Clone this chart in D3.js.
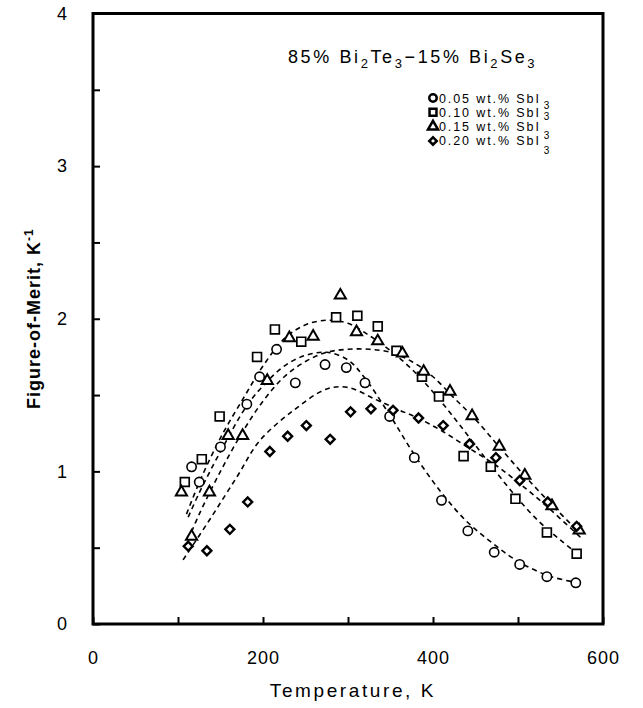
<!DOCTYPE html>
<html>
<head>
<meta charset="utf-8">
<script src="https://cdn.jsdelivr.net/npm/d3@7"></script>
<style>
  html, body { margin: 0; padding: 0; background: #fff; }
  svg { display: block; font-family: "Liberation Sans", Arial, Helvetica, sans-serif; }
</style>
</head>
<body>
<svg id="chart" width="643" height="708"></svg>
<script>
// ---- data ----
const seriesLabels = ["0.05 wt.% SbI", "0.10 wt.% SbI", "0.15 wt.% SbI", "0.20 wt.% SbI"];
const seriesSymbols = ["circle", "square", "triangle", "diamond"];

const temp05 = [116, 125, 150, 181, 196, 216, 238, 273, 298, 320, 349, 378, 410, 441, 472, 502, 534, 568];
const fom05  = [1.03, 0.93, 1.16, 1.44, 1.62, 1.80, 1.58, 1.70, 1.68, 1.58, 1.36, 1.09, 0.81, 0.61, 0.47, 0.39, 0.31, 0.27];

const temp10 = [108, 128, 149, 193, 214, 245, 286, 311, 335, 357, 387, 407, 436, 468, 497, 534, 569];
const fom10  = [0.93, 1.08, 1.36, 1.75, 1.93, 1.85, 2.01, 2.02, 1.95, 1.79, 1.62, 1.49, 1.10, 1.03, 0.82, 0.60, 0.46];

const temp15 = [104, 116, 137, 159, 176, 205, 231, 259, 291, 310, 335, 364, 389, 420, 446, 478, 508, 540, 572];
const fom15  = [0.87, 0.58, 0.87, 1.24, 1.24, 1.60, 1.88, 1.89, 2.16, 1.92, 1.86, 1.78, 1.66, 1.53, 1.37, 1.17, 0.98, 0.78, 0.62];

const temp20 = [112, 134, 161, 182, 208, 229, 251, 279, 303, 327, 353, 383, 412, 443, 474, 502, 535, 569];
const fom20  = [0.51, 0.48, 0.62, 0.80, 1.13, 1.23, 1.30, 1.21, 1.39, 1.41, 1.40, 1.35, 1.30, 1.18, 1.09, 0.94, 0.80, 0.64];

// dashed fit curves
const fitT05 = [112, 125, 150, 181, 200, 225, 250, 275, 300, 320, 349, 378, 410, 440, 470, 500, 539, 572];
const fitF05 = [0.70, 0.86, 1.13, 1.43, 1.56, 1.69, 1.76, 1.78, 1.73, 1.61, 1.37, 1.11, 0.86, 0.67, 0.53, 0.41, 0.31, 0.27];

const fitT10 = [110, 126, 150, 177, 200, 225, 250, 275, 300, 325, 350, 375, 400, 425, 450, 475, 500, 525, 550, 572];
const fitF10 = [0.72, 0.94, 1.22, 1.48, 1.69, 1.87, 1.96, 1.99, 1.97, 1.89, 1.79, 1.67, 1.52, 1.35, 1.17, 0.99, 0.82, 0.67, 0.55, 0.45];

const fitT15 = [112, 125, 150, 175, 200, 225, 250, 275, 300, 325, 350, 375, 400, 425, 450, 478, 508, 540, 572];
const fitF15 = [0.55, 0.72, 1.00, 1.25, 1.46, 1.62, 1.72, 1.78, 1.80, 1.80, 1.78, 1.72, 1.62, 1.48, 1.34, 1.16, 0.97, 0.78, 0.60];

const fitT20 = [106, 138, 170, 196, 236, 275, 300, 333, 361, 382, 412, 443, 474, 502, 534, 575];
const fitF20 = [0.42, 0.69, 0.97, 1.20, 1.40, 1.54, 1.55, 1.47, 1.40, 1.35, 1.26, 1.15, 1.04, 0.92, 0.77, 0.56];

const xTicks = [0, 100, 200, 300, 400, 500, 600];
const xTickLabels = [0, 200, 400, 600];
const yTicks = [0, 0.5, 1, 1.5, 2, 2.5, 3, 3.5, 4];
const yTickLabels = [0, 1, 2, 3, 4];

// ---- build ----
const svg = d3.select("#chart");
const W = 643, H = 708;
const margin = { left: 93, right: 40, top: 13.5, bottom: 84 };
const x = d3.scaleLinear().domain([0, 600]).range([margin.left, W - margin.right]);
const y = d3.scaleLinear().domain([0, 4]).range([H - margin.bottom, margin.top]);

const series = [
  { t: temp05, f: fom05, ft: fitT05, ff: fitF05 },
  { t: temp10, f: fom10, ft: fitT10, ff: fitF10 },
  { t: temp15, f: fom15, ft: fitT15, ff: fitF15 },
  { t: temp20, f: fom20, ft: fitT20, ff: fitF20 }
];

// fit curves
const line = d3.line().x(d => x(d[0])).y(d => y(d[1])).curve(d3.curveCatmullRom.alpha(0.5));
series.forEach(s => {
  svg.append("path")
    .attr("d", line(s.ft.map((t, i) => [t, s.ff[i]])))
    .attr("fill", "none").attr("stroke", "#000")
    .attr("stroke-width", 1.6).attr("stroke-dasharray", "5,4");
});

// symbols
function symbolPath(kind, size) {
  const map = { circle: d3.symbolCircle, square: d3.symbolSquare, triangle: d3.symbolTriangle, diamond: d3.symbolSquare };
  return d3.symbol().type(map[kind]).size(size)();
}
const symSize = { circle: 68, square: 78, triangle: 54, diamond: 40 };
const symStroke = { circle: 1.6, square: 1.7, triangle: 2.0, diamond: 2.4 };
function symTransform(kind, px, py) {
  if (kind === "diamond") return `translate(${px},${py}) rotate(45)`;
  if (kind === "triangle") return `translate(${px},${py + 1})`;
  return `translate(${px},${py})`;
}

series.forEach((s, k) => {
  const kind = seriesSymbols[k];
  svg.append("g").selectAll("path").data(s.t.map((t, i) => [t, s.f[i]])).join("path")
    .attr("d", symbolPath(kind, symSize[kind]))
    .attr("transform", d => symTransform(kind, x(d[0]), y(d[1])))
    .attr("fill", "#fff").attr("stroke", "#000")
    .attr("stroke-width", symStroke[kind]);
});

// axes
const xAxis = d3.axisBottom(x).tickValues(xTicks).tickSize(-7).tickPadding(27)
  .tickFormat(d => xTickLabels.includes(d) ? d : "");
const gx = svg.append("g").attr("transform", `translate(0,${y(0)})`).call(xAxis);
const yAxis = d3.axisLeft(y).tickValues(yTicks).tickSize(-7).tickPadding(25)
  .tickFormat(d => yTickLabels.includes(d) ? d : "");
const gy = svg.append("g").attr("transform", `translate(${x(0)},0)`).call(yAxis);
[gx, gy].forEach(g => {
  g.select(".domain").remove();
  g.selectAll(".tick line").attr("stroke", "#000").attr("stroke-width", 2);
  g.selectAll(".tick text").attr("fill", "#000").style("font-size", "18px")
    .style("font-family", "'Liberation Sans', Arial, sans-serif").style("letter-spacing", "1px");
});

// frame
svg.append("rect")
  .attr("x", x(0)).attr("y", y(4))
  .attr("width", x(600) - x(0)).attr("height", y(0) - y(4))
  .attr("fill", "none").attr("stroke", "#000").attr("stroke-width", 3);

// axis titles
svg.append("text")
  .attr("x", (x(0) + x(600)) / 2 + 5).attr("y", 697)
  .attr("text-anchor", "middle").style("font-size", "19px").style("letter-spacing", "2.6px")
  .text("Temperature, K");

const yt = svg.append("text")
  .attr("transform", `translate(40,${(y(0) + y(4)) / 2}) rotate(-90)`)
  .attr("text-anchor", "middle").style("font-size", "18px").style("font-weight", "bold")
  .style("letter-spacing", "1px");
yt.append("tspan").text("Figure-of-Merit, K");
yt.append("tspan").attr("dy", -7).style("font-size", "12px").text("-1");

// chart title
const title = svg.append("text").attr("x", 288).attr("y", 63).style("font-size", "18px").style("letter-spacing", "2.6px");
const titleParts = [["85% Bi", 0], ["2", 1], ["Te", 0], ["3", 1], ["\u221215% Bi", 0], ["2", 1], ["Se", 0], ["3", 1]];
titleParts.forEach(([txt, sub], i) => {
  const prevSub = i > 0 ? titleParts[i - 1][1] : 0;
  title.append("tspan")
    .attr("dy", sub && !prevSub ? 5 : (!sub && prevSub ? -5 : 0))
    .style("font-size", sub ? "13px" : "18px")
    .text(txt);
});

// legend
const legX = 433, legY0 = 98, legDy = 14.3;
const subOffsets = [6, 3, 8, 9];
seriesLabels.forEach((lab, k) => {
  const kind = seriesSymbols[k];
  const cy = legY0 + k * legDy;
  const lsz = { circle: 44, square: 48, triangle: 44, diamond: 28 }[kind];
  svg.append("path").attr("d", symbolPath(kind, lsz))
    .attr("transform", symTransform(kind, legX, cy - (kind === "triangle" ? 1 : 0)))
    .attr("fill", "#fff").attr("stroke", "#000").attr("stroke-width", 2.5);
  const t = svg.append("text").attr("x", legX + 6).attr("y", cy + 4.5)
    .style("font-size", "12.5px").style("letter-spacing", "1.9px");
  t.append("tspan").text(lab);
  t.append("tspan").attr("dx", 3).attr("dy", subOffsets[k]).style("font-size", "10px").text("3");
});
</script>
</body>
</html>
